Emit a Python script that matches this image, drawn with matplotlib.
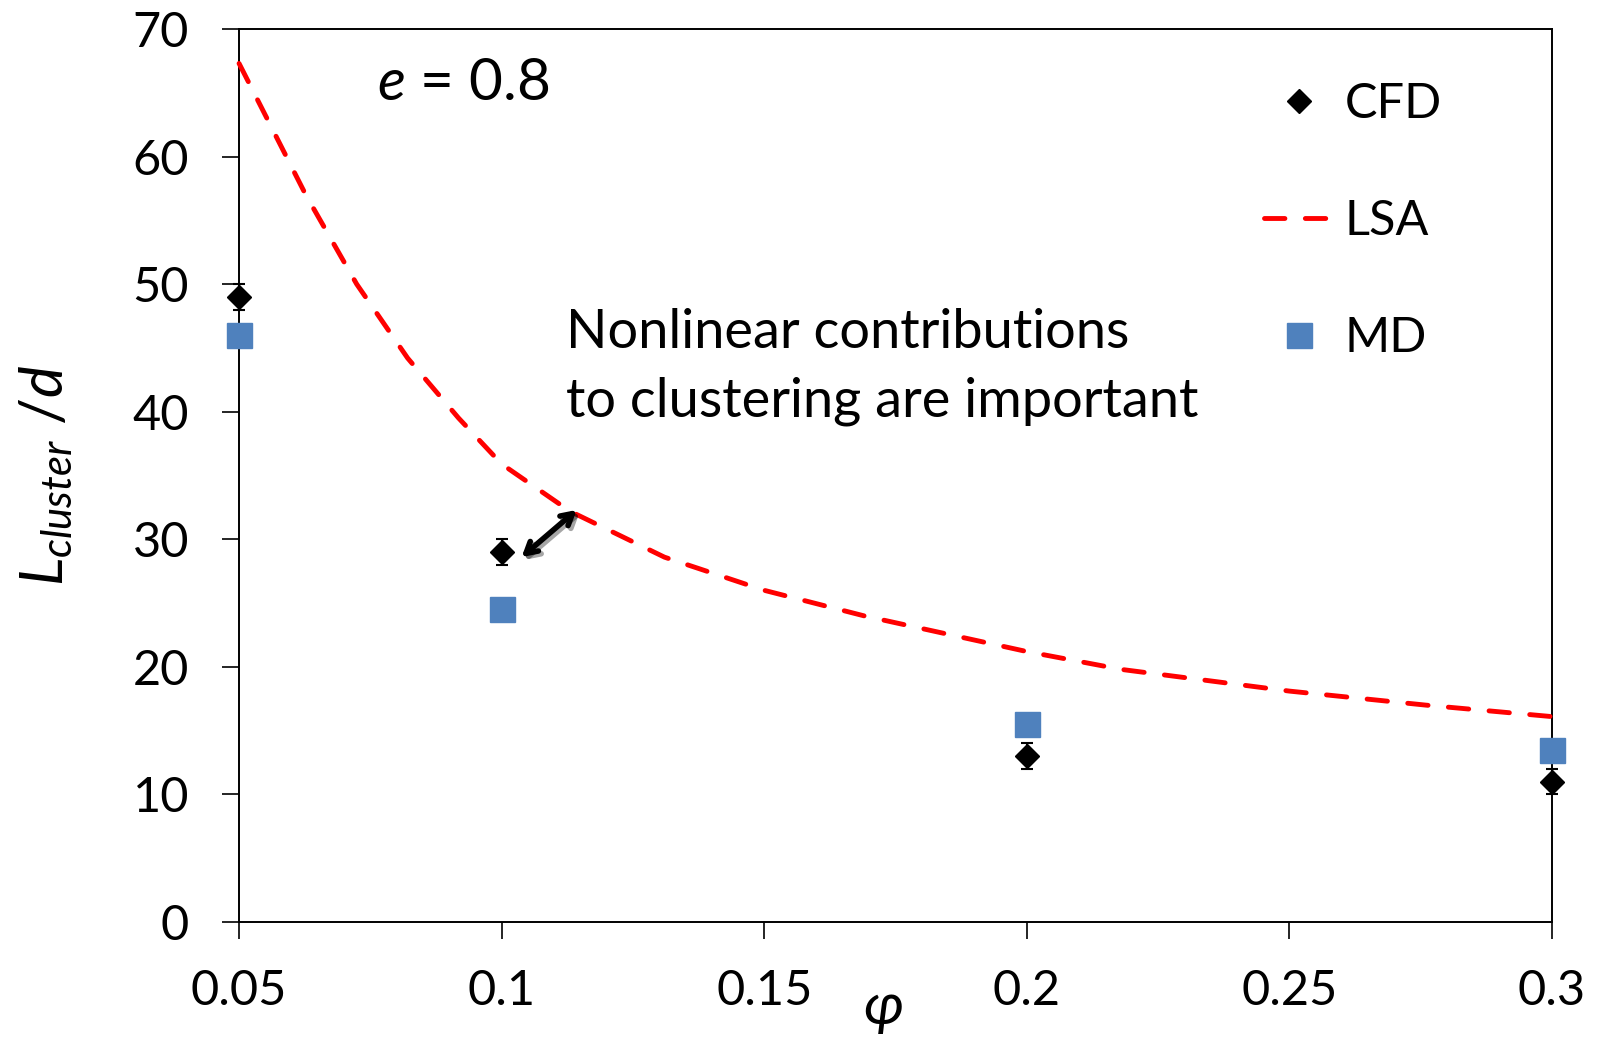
import matplotlib
matplotlib.use("Agg")
import matplotlib.pyplot as plt
import matplotlib.patheffects as pe
from matplotlib.ticker import FuncFormatter, MultipleLocator

# packing fraction and cluster length data
phi_cfd = [0.05, 0.1, 0.2, 0.3]
L_cfd = [49.0, 29.0, 13.0, 11.0]
L_cfd_err = [1.0, 1.0, 1.0, 1.0]

phi_md = [0.05, 0.1, 0.2, 0.3]
L_md = [46.0, 24.5, 15.5, 13.5]

# linear stability analysis curve
phi_lsa = [0.05, 0.0627, 0.0724, 0.0821, 0.0918, 0.1, 0.113, 0.131,
           0.15, 0.169, 0.2, 0.218, 0.25, 0.276, 0.3]
L_lsa = [67.3, 57.0, 50.0, 44.2, 39.5, 35.9, 32.2, 28.6,
         26.0, 24.0, 21.2, 19.8, 18.1, 17.0, 16.1]

arrow_tail = (0.1038, 28.6)
arrow_head = (0.1143, 32.3)

FONT = ["Lato", "DejaVu Sans"]
plt.rcParams["font.family"] = FONT
plt.rcParams["mathtext.fontset"] = "custom"
plt.rcParams["mathtext.rm"] = "Lato"
plt.rcParams["mathtext.it"] = "Lato:italic"

fs = 35
blue = "#4F81BD"

fig = plt.figure(figsize=(15.98, 10.39), dpi=100)
ax = fig.add_axes([0.1496, 0.1126, 0.9712 - 0.1496, 0.9721 - 0.1126])

lsa, = ax.plot(phi_lsa, L_lsa, color="red", lw=3.5, linestyle=(0, (4.2, 4.2)),
               dash_capstyle="round", label="LSA", zorder=3, clip_on=False)

ax.errorbar(phi_cfd, L_cfd, yerr=L_cfd_err, fmt="none", ecolor="black",
            elinewidth=1.5, capsize=4.5, capthick=1.5, zorder=4, clip_on=False)
cfd, = ax.plot(phi_cfd, L_cfd, linestyle="none", marker="D", ms=12.5, color="black",
               label="CFD", zorder=5, clip_on=False)
md, = ax.plot(phi_md, L_md, linestyle="none", marker="s", ms=18, color=blue,
              mec=blue, label="MD", zorder=5, clip_on=False)

ax.annotate("", xy=arrow_tail, xytext=arrow_head,
            arrowprops=dict(arrowstyle="<->,head_length=0.8,head_width=0.45",
                            color="black", lw=4, shrinkA=0, shrinkB=0,
                            path_effects=[pe.SimpleLineShadow(offset=(2, -2), alpha=0.35),
                                          pe.Normal()]))

ax.set_xlim(0.05, 0.3)
ax.set_ylim(0, 70)
ax.xaxis.set_major_locator(MultipleLocator(0.05))
ax.yaxis.set_major_locator(MultipleLocator(10))
ax.xaxis.set_major_formatter(FuncFormatter(lambda v, p: f"{v:g}"))
ax.tick_params(axis="both", direction="out", length=12, width=1.2,
               labelsize=fs, colors="black")
ax.tick_params(axis="y", pad=24)
ax.tick_params(axis="x", pad=22)
for s in ax.spines.values():
    s.set_linewidth(1.4)

ax.set_ylabel(r"$L_{cluster}$ /$d$", fontsize=43)
ax.yaxis.set_label_coords(-0.125, 0.5)
ax.set_xlabel(r"$\varphi$", fontsize=42, family=["Open Sans", "DejaVu Sans"])
ax.xaxis.set_label_coords(0.49, -0.064)

ax.text(0.0763, 65.7, "$e$ = 0.8", fontsize=42, ha="left", va="center")
ax.text(0.1122, 43.5, "Nonlinear contributions\nto clustering are important",
        fontsize=39, ha="left", va="center", linespacing=1.5)

ax.legend(handles=[cfd, lsa, md], loc="upper left", bbox_to_anchor=(0.7807, 0.9406),
          frameon=False, fontsize=fs, labelspacing=1.5, handlelength=1.45,
          handletextpad=0.2, borderpad=0, borderaxespad=0)

fig.savefig("out.png", dpi=100)
